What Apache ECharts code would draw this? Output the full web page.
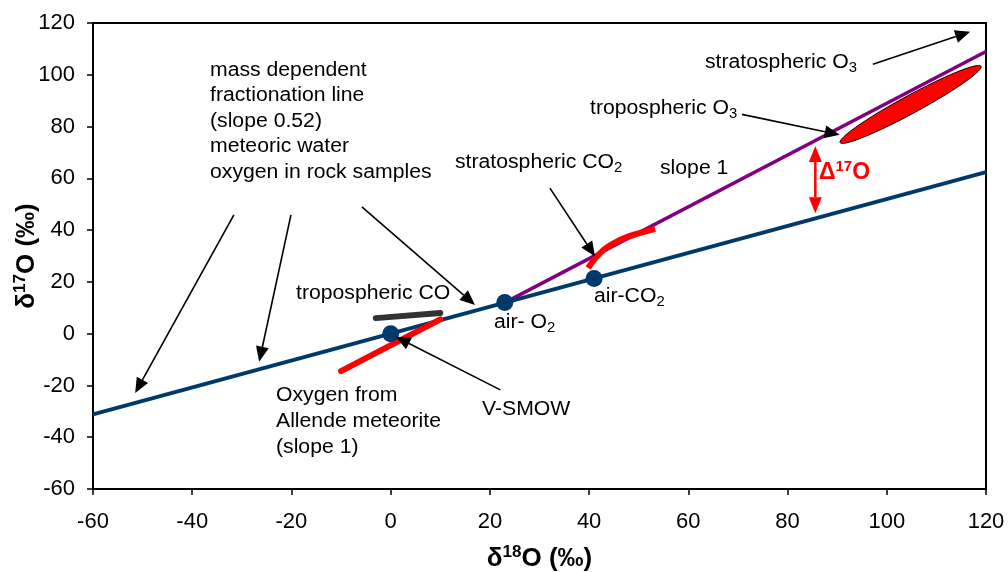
<!DOCTYPE html>
<html>
<head>
<meta charset="utf-8">
<title>Oxygen three-isotope plot</title>
<script src="https://cdn.jsdelivr.net/npm/echarts@6/dist/echarts.min.js"></script>
<style>
  html, body { margin: 0; padding: 0; background: #fff; }
  #chart { width: 1008px; height: 572px; }
</style>
</head>
<body>
<div id="chart"></div>
<script>
// Axis ticks (‰)
const xTicks = [-60, -40, -20, 0, 20, 40, 60, 80, 100, 120];
const yTicks = [-60, -40, -20, 0, 20, 40, 60, 80, 100, 120];

// Mass dependent fractionation line, δ17O = 0.52 · δ18O
const mdfLine = [[-60, -31.2], [120, 62.4]];
// Slope 1 line starting at air-O2
const slopeOneLine = [[23, 12], [120, 109]];
// Oxygen from the Allende meteorite (slope 1)
const allendeLine = [[-10, -14.5], [10, 5.5]];
// Tropospheric CO
const tropCOLine = [[-3, 6], [10, 8]];
// Stratospheric CO2 trend
const stratCO2Curve = [[39.8, 25.4], [41.2, 29], [43, 32.5], [45, 35], [47.7, 37.4], [50.5, 39], [53.3, 40.5]];
// Reference points on the fractionation line
const refNames = ['V-SMOW', 'air-O2', 'air-CO2'];
const refValues = [[0, 0], [23, 12], [41, 21.3]];
// Ozone field: ends of the major axis
const ozoneAxis = [[90.6, 73.8], [119, 103.3]];
// Pointer arrows: [x tail, y tail, x tip, y tip]
const pointerArrows = [
  [-31.6, 45.9, -51.5, -22.9],
  [-20.1, 45.9, -26.5, -10.8],
  [-5.8, 49, 17, 11.1],
  [22.1, -21.7, 1.0, -1.2],
  [32.1, 56.2, 41.2, 29.8],
  [70.8, 84.7, 90.5, 76.8],
  [97.2, 104.1, 116.8, 116.6]
];
// Δ17O span between the two lines
const deltaArrow = [[85.6, 46.5, 85.6, 72.5]];

const FONT = '"Liberation Sans", Arial, Helvetica, sans-serif';
const NAVY = '#003a6b';
const TEXT_SCALE_X = 1.06;

const chart = echarts.init(document.getElementById('chart'), null, { renderer: 'canvas' });

function arrowHead(tip, ux, uy, len, halfW) {
  const bx = tip[0] - ux * len, by = tip[1] - uy * len;
  return {
    base: [bx, by],
    points: [tip, [bx - uy * halfW, by + ux * halfW], [bx + uy * halfW, by - ux * halfW]]
  };
}

function renderArrow(params, api, color, width, headLen, headW, both) {
  const p1 = api.coord([api.value(0), api.value(1)]);
  const p2 = api.coord([api.value(2), api.value(3)]);
  const dx = p2[0] - p1[0], dy = p2[1] - p1[1];
  const len = Math.hypot(dx, dy);
  const ux = dx / len, uy = dy / len;
  const h2 = arrowHead(p2, ux, uy, headLen, headW);
  let start = p1;
  const children = [];
  if (both) {
    const h1 = arrowHead(p1, -ux, -uy, headLen, headW);
    start = h1.base;
    children.push({ type: 'polygon', shape: { points: h1.points }, style: { fill: color } });
  }
  children.unshift({
    type: 'line',
    shape: { x1: start[0], y1: start[1], x2: h2.base[0], y2: h2.base[1] },
    style: { stroke: color, lineWidth: width }
  });
  children.push({ type: 'polygon', shape: { points: h2.points }, style: { fill: color } });
  return { type: 'group', children };
}

const subRich = {
  t: { fontSize: 20, lineHeight: 26, fontFamily: FONT, fill: '#000' },
  sub: { fontSize: 14, lineHeight: 13, verticalAlign: 'bottom', fontFamily: FONT, fill: '#000' }
};

function label(text, left, centerY, lineHeight) {
  const lh = lineHeight || 26;
  return {
    type: 'text',
    x: left,
    y: centerY - lh / 2,
    scaleX: TEXT_SCALE_X,
    silent: true,
    style: {
      text: text,
      font: '20px ' + FONT,
      fill: '#000',
      lineHeight: lh,
      verticalAlign: 'top',
      align: 'left',
      rich: subRich
    }
  };
}

const axisNameRich = {
  b: { fontSize: 26, fontWeight: 'bold', fontFamily: FONT, color: '#000', lineHeight: 30 },
  sup: { fontSize: 17, fontWeight: 'bold', fontFamily: FONT, color: '#000', lineHeight: 15, verticalAlign: 'top' }
};

const option = {
  backgroundColor: '#fff',
  animation: false,
  grid: {
    left: 93, right: 22, top: 23, bottom: 83,
    outerBoundsMode: 'none',
    containLabel: false,
    show: true, borderColor: '#000', borderWidth: 2, backgroundColor: 'transparent'
  },
  xAxis: {
    type: 'value', min: xTicks[0], max: xTicks[xTicks.length - 1], interval: 20,
    axisLine: { show: true, onZero: false, lineStyle: { color: '#000', width: 2 } },
    axisTick: { show: true, inside: false, length: 6, lineStyle: { color: '#000', width: 1.5 } },
    splitLine: { show: false },
    axisLabel: { margin: 22, color: '#000', fontSize: 22, fontFamily: FONT, customValues: xTicks },
    name: '{b|δ}{sup|18}{b|O (‰)}',
    nameLocation: 'middle', nameGap: 55, nameMoveOverlap: false,
    nameTextStyle: { rich: axisNameRich }
  },
  yAxis: {
    type: 'value', min: yTicks[0], max: yTicks[yTicks.length - 1], interval: 20,
    axisLine: { show: true, onZero: false, lineStyle: { color: '#000', width: 2 } },
    axisTick: { show: true, inside: false, length: 6, lineStyle: { color: '#000', width: 1.5 } },
    splitLine: { show: false },
    axisLabel: { margin: 18, color: '#000', fontSize: 22, fontFamily: FONT, customValues: yTicks },
    name: '{b|δ}{sup|17}{b|O (‰)}',
    nameLocation: 'middle', nameGap: 51, nameMoveOverlap: false,
    nameTextStyle: { rich: axisNameRich }
  },
  series: [
    {
      name: 'slope 1', type: 'line', data: slopeOneLine, symbol: 'none', z: 2,
      lineStyle: { color: '#800080', width: 3.5 }
    },
    {
      name: 'mass dependent fractionation line', type: 'line', data: mdfLine, symbol: 'none', z: 3,
      lineStyle: { color: NAVY, width: 4 }
    },
    {
      name: 'Allende', type: 'line', data: allendeLine, symbol: 'none', z: 4,
      lineStyle: { color: '#ff0000', width: 6, cap: 'round' }
    },
    {
      name: 'tropospheric CO', type: 'line', data: tropCOLine, symbol: 'none', z: 4,
      lineStyle: { color: '#333333', width: 6, cap: 'round' }
    },
    {
      name: 'stratospheric CO2', type: 'line', data: stratCO2Curve, symbol: 'none', smooth: 0.4, z: 4,
      lineStyle: { color: '#ff0000', width: 6 }
    },
    {
      name: 'ozone', type: 'custom', z: 4,
      data: [[ozoneAxis[0][0], ozoneAxis[0][1], ozoneAxis[1][0], ozoneAxis[1][1]]],
      renderItem(params, api) {
        const p1 = api.coord([api.value(0), api.value(1)]);
        const p2 = api.coord([api.value(2), api.value(3)]);
        const cx = (p1[0] + p2[0]) / 2, cy = (p1[1] + p2[1]) / 2;
        const a = Math.hypot(p2[0] - p1[0], p2[1] - p1[1]) / 2;
        const b = 9;
        const ang = Math.atan2(p2[1] - p1[1], p2[0] - p1[0]);
        const pts = [];
        for (let i = 0; i < 120; i++) {
          const t = (i / 120) * Math.PI * 2;
          const ex = a * Math.cos(t), ey = b * Math.sin(t);
          pts.push([cx + ex * Math.cos(ang) - ey * Math.sin(ang), cy + ex * Math.sin(ang) + ey * Math.cos(ang)]);
        }
        return { type: 'polygon', shape: { points: pts }, style: { fill: '#ff0000', stroke: '#000', lineWidth: 1 } };
      }
    },
    {
      name: 'reference points', type: 'scatter', z: 5,
      data: refValues.map((v, i) => ({ name: refNames[i], value: v })),
      symbol: 'circle', symbolSize: 17,
      itemStyle: { color: NAVY, opacity: 1 }
    },
    {
      name: 'pointers', type: 'custom', z: 6,
      data: pointerArrows,
      renderItem(params, api) { return renderArrow(params, api, '#000', 1.6, 15, 6.5, false); }
    },
    {
      name: 'Δ17O', type: 'custom', z: 6,
      data: deltaArrow,
      renderItem(params, api) { return renderArrow(params, api, '#ff0000', 2.5, 16, 6.5, true); }
    }
  ],
  graphic: [
    label('mass dependent\nfractionation line\n(slope 0.52)\nmeteoric water\noxygen in rock samples', 210, 70.5, 25.4),
    label('{t|stratospheric O}{sub|3}', 705, 62),
    label('{t|tropospheric O}{sub|3}', 590, 108),
    label('slope 1', 660, 168),
    label('{t|stratospheric CO}{sub|2}', 455, 162),
    label('{t|air-CO}{sub|2}', 594, 296),
    label('{t|air- O}{sub|2}', 494, 322),
    label('tropospheric CO', 296, 293),
    label('V-SMOW', 482, 409),
    label('Oxygen from\nAllende meteorite\n(slope 1)', 276, 395, 26),
    {
      type: 'text', x: 819, y: 173 - 14, silent: true,
      style: {
        text: '{b|Δ}{sup|17}{b|O}', verticalAlign: 'top', align: 'left',
        rich: {
          b: { fontSize: 23, fontWeight: 'bold', fontFamily: FONT, fill: '#ff0000', lineHeight: 28 },
          sup: { fontSize: 15, fontWeight: 'bold', fontFamily: FONT, fill: '#ff0000', lineHeight: 14, verticalAlign: 'top' }
        }
      }
    }
  ]
};

chart.setOption(option);
</script>
</body>
</html>
